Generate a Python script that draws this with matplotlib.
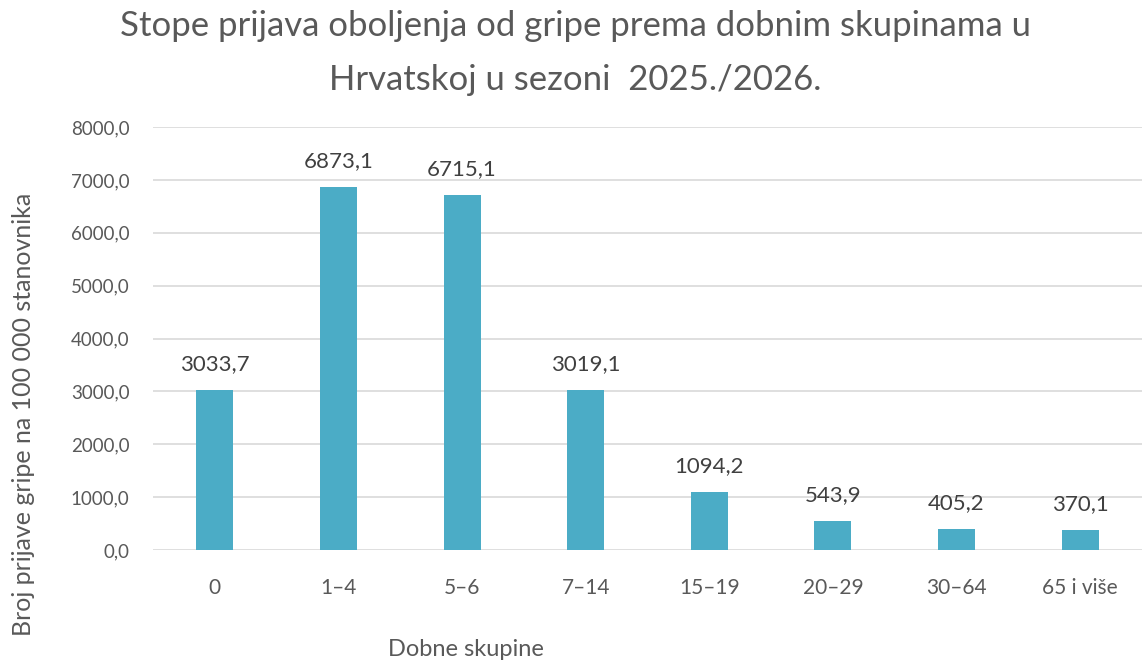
import matplotlib
matplotlib.use("Agg")
import matplotlib.pyplot as plt

categories = ["0", "1\u20134", "5\u20136", "7\u201314", "15\u201319", "20\u201329", "30\u201364", "65 i više"]
rates = [3033.7, 6873.1, 6715.1, 3019.1, 1094.2, 543.9, 405.2, 370.1]
yticks = [0, 1000, 2000, 3000, 4000, 5000, 6000, 7000, 8000]

plt.rcParams["font.family"] = ["Lato", "DejaVu Sans"]
W, H = 1142, 664

fig = plt.figure(figsize=(W / 100, H / 100), dpi=100)
ax = fig.add_axes([153 / W, 1 - 550 / H, 989 / W, 423 / H])

x = range(len(categories))
bars = ax.bar(x, rates, width=0.30, color="#4BACC6", zorder=3)
for b, v in zip(bars, rates):
    ax.text(b.get_x() + b.get_width() / 2, v + 300, f"{v:.1f}".replace(".", ","),
            ha="center", va="bottom", fontsize=16, color="#404040")

ax.set_xlim(-0.5, len(categories) - 0.5)
ax.set_ylim(0, 8000)
ax.set_yticks(yticks)
ax.set_yticklabels([f"{t:.1f}".replace(".", ",") for t in yticks])
ax.set_xticks(list(x))
ax.set_xticklabels(categories)
ax.tick_params(axis="both", length=0, colors="#595959")
ax.tick_params(axis="y", pad=17, labelsize=13.5)
ax.tick_params(axis="x", pad=20, labelsize=15)
ax.grid(axis="y", color="#d9d9d9", linewidth=1.2, zorder=0)
for s in ax.spines.values():
    s.set_visible(False)

# two title lines, placed by baseline
fig.text(575 / W, 1 - 36 / H, "Stope prijava oboljenja od gripe prema dobnim skupinama u",
         ha="center", va="baseline", fontsize=25, color="#595959")
fig.text(575 / W, 1 - 90 / H, "Hrvatskoj u sezoni  2025./2026.",
         ha="center", va="baseline", fontsize=25, color="#595959")
fig.text(24 / W, 1 - 414 / H, "Broj prijave gripe na 100 000 stanovnika",
         rotation=90, ha="center", va="center", fontsize=18, color="#595959")
fig.text(466 / W, 1 - 650 / H, "Dobne skupine",
         ha="center", va="center", fontsize=17, color="#595959")

fig.savefig("out.png", dpi=100, facecolor="white")
